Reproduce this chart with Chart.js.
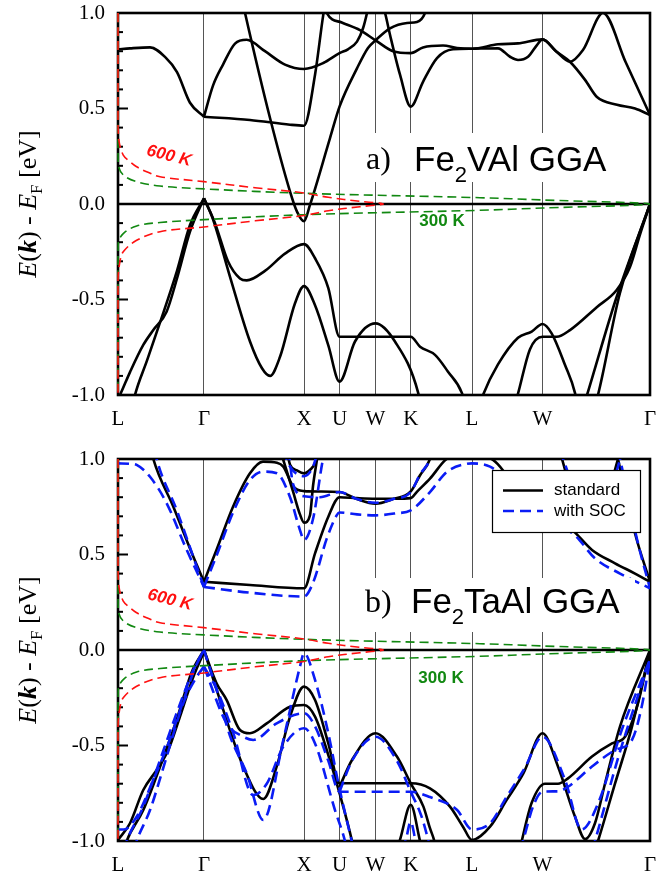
<!DOCTYPE html>
<html><head><meta charset="utf-8">
<script src="https://cdn.jsdelivr.net/npm/chart.js@4.4.1/dist/chart.umd.min.js"></script>
<style>
html,body{margin:0;padding:0;background:#fff;}
#wrap{position:relative;width:663px;height:875px;overflow:hidden;background:#fff;}
canvas{position:absolute;left:0;}
#ca{top:0;width:663px;height:440px;} #cb{top:440px;width:663px;height:435px;}
</style></head><body>
<div id="wrap"><canvas id="ca" width="663" height="440"></canvas><canvas id="cb" width="663" height="435"></canvas></div>
<script>
// k-path (units of 2π/a) and labels
const kTicks = [0, 0.867, 1.876, 2.234, 2.597, 2.952, 3.570, 4.281, 5.365];
const kLabels = ['L','Γ','X','U','W','K','L','W','Γ'];
const yTicks = [-1, -0.5, 0, 0.5, 1];

// Fermi window curves [k, E]
const fermi600 = [[0,1.0],[0,0.45],[0.01,0.33],[0.053,0.256],[0.121,0.222],[0.188,0.195],[0.289,0.169],[0.424,0.143],[0.867,0.117],[1.382,0.085],[1.876,0.058],[2.12,0.035],[2.44,0.014],[2.676,0],[2.44,-0.014],[2.12,-0.035],[1.876,-0.06],[1.382,-0.088],[0.867,-0.12],[0.424,-0.145],[0.188,-0.19],[0.053,-0.25],[0.02,-0.30],[0,-0.40],[0,-1.0]];
const fermi300 = [[0,1.0],[0,0.32],[0.003,0.204],[0.053,0.152],[0.188,0.117],[0.424,0.094],[0.867,0.079],[1.876,0.056],[3.65,0.033],[4.281,0.021],[5.365,0],[4.281,-0.021],[3.65,-0.033],[1.876,-0.056],[0.867,-0.082],[0.424,-0.097],[0.188,-0.115],[0.053,-0.155],[0.003,-0.204],[0,-0.32],[0,-1.0]];

// Panel a: Fe2VAl GGA bands [k, E]
const aBand1 = [[0,0.81],[0.121,0.815],[0.323,0.82],[0.474,0.77],[0.595,0.69],[0.726,0.53],[0.867,0.457]];
const aBand2 = [[0.867,0.457],[1.331,0.44],[1.735,0.415],[1.876,0.41],[1.987,0.677],[2.07,0.99],[2.09,1.05]];
const aBand3 = [[0.867,0.457],[0.958,0.62],[1.059,0.73],[1.180,0.84],[1.298,0.86],[1.482,0.80],[1.684,0.73],[1.876,0.707],[2.07,0.738],[2.234,0.79],[2.319,0.81],[2.410,0.85],[2.471,0.92],[2.511,1.0],[2.53,1.05]];
const aBand4 = [[1.26,1.05],[1.281,1.0],[1.533,0.45],[1.735,0.065],[1.805,-0.04],[1.876,-0.09],[1.936,-0.005],[2.138,0.345],[2.234,0.51],[2.410,0.71],[2.521,0.817],[2.597,0.857],[2.743,0.92],[2.915,0.948],[3.015,0.953],[3.096,1.0],[3.12,1.05]];
const aBand5 = [[2.08,1.05],[2.105,1.0],[2.256,0.95],[2.440,0.91],[2.597,0.857],[2.773,0.80],[2.952,0.79],[3.076,0.82],[3.278,0.83],[3.419,0.817],[3.570,0.813],[3.832,0.836],[4.034,0.841],[4.281,0.862],[4.417,0.80],[4.558,0.745],[4.689,0.806],[4.891,1.0],[5.12,0.742],[5.365,0.466]];
const aBand6 = [[3.570,0.813],[3.832,0.815],[3.953,0.771],[4.034,0.754],[4.135,0.771],[4.225,0.832],[4.281,0.862],[4.417,0.80],[4.558,0.745],[4.710,0.65],[4.830,0.56],[5.032,0.52],[5.214,0.50],[5.365,0.466]];
const aBand7 = [[2.66,1.05],[2.693,1.0],[2.743,0.886],[2.844,0.677],[2.952,0.51],[3.076,0.64],[3.217,0.764],[3.378,0.81],[3.570,0.813]];
const aBand8 = [[0,-1.02],[0.020,-1.0],[0.121,-0.88],[0.255,-0.738],[0.356,-0.66],[0.49,-0.564],[0.595,-0.39],[0.726,-0.145],[0.867,0.03]];
const aBand9 = [[0.15,-1.05],[0.171,-1.0],[0.292,-0.82],[0.424,-0.62],[0.595,-0.35],[0.726,-0.11],[0.867,0.03]];
const aBand10 = [[0.867,0.03],[0.978,-0.10],[1.109,-0.30],[1.230,-0.39],[1.298,-0.40],[1.482,-0.35],[1.684,-0.26],[1.876,-0.21],[1.987,-0.284],[2.121,-0.44],[2.234,-0.695],[2.952,-0.695],[3.046,-0.747],[3.197,-0.79],[3.328,-0.878],[3.469,-0.99],[3.5,-1.05]];
const aBand11 = [[0.867,0.03],[0.958,-0.08],[1.129,-0.38],[1.331,-0.72],[1.452,-0.86],[1.533,-0.90],[1.634,-0.80],[1.785,-0.52],[1.876,-0.43],[1.987,-0.53],[2.121,-0.74],[2.234,-0.93],[2.390,-0.72],[2.597,-0.625],[2.793,-0.72],[3.028,-0.99],[3.05,-1.05]];
const aBand12 = [[3.65,-1.05],[3.681,-1.0],[3.832,-0.84],[4.034,-0.70],[4.172,-0.668],[4.281,-0.628],[4.373,-0.677],[4.508,-0.843],[4.609,-0.99],[4.63,-1.05]];
const aBand13 = [[4.0,-1.05],[4.03,-1.0],[4.155,-0.76],[4.281,-0.695],[4.424,-0.695],[4.558,-0.66],[4.828,-0.54],[5.029,-0.45],[5.163,-0.33],[5.264,-0.16],[5.365,0.0]];
const aBand14 = [[4.70,-1.05],[4.73,-1.0],[5.02,-0.50],[5.365,0]];
const aBand15 = [[4.81,-1.05],[4.84,-1.0],[5.06,-0.47],[5.365,0]];

// Panel b: Fe2TaAl GGA, standard (black)
const bBand1 = [[0.33,1.06],[0.356,1.0],[0.558,0.75],[0.76,0.488],[0.867,0.357]];
const bBand2 = [[0.867,0.357],[0.998,0.53],[1.16,0.75],[1.331,0.925],[1.462,0.986],[1.603,0.98],[1.667,0.96],[1.768,0.855],[1.876,0.832],[2.037,0.83],[2.234,0.827],[2.410,0.79],[2.597,0.766],[2.773,0.79],[2.952,0.83],[3.046,0.915],[3.146,1.0],[3.17,1.05]];
const bBand3 = [[1.634,1.05],[1.664,1.0],[1.765,0.83],[1.835,0.71],[1.876,0.667],[1.936,0.705],[1.967,0.86],[2.007,1.0],[2.02,1.05]];
const bBand4 = [[1.70,1.05],[1.735,0.97],[1.805,0.94],[1.876,0.925],[1.94,0.945],[1.987,0.98],[2.02,1.05]];
const bBand5 = [[0.867,0.357],[1.331,0.34],[1.876,0.323],[1.987,0.506],[2.121,0.698],[2.234,0.80],[2.410,0.795],[2.597,0.792],[2.793,0.792],[2.952,0.795],[3.012,0.827],[3.146,0.897],[3.315,1.0],[3.57,1.03],[3.782,0.995],[3.883,0.94],[4.054,0.80],[4.357,0.70],[4.578,0.63],[4.780,0.524],[5.012,0.454],[5.214,0.40],[5.365,0.357]];
const bBand6 = [[4.46,1.05],[4.478,1.0],[4.609,0.82],[4.76,0.78],[4.911,0.82],[5.042,1.0],[5.06,1.05]];
const bBand7 = [[5.02,1.05],[5.042,1.0],[5.214,0.61],[5.365,0.357]];
const bBand8 = [[0,-0.995],[0.121,-0.907],[0.255,-0.733],[0.39,-0.628],[0.507,-0.524],[0.625,-0.349],[0.76,-0.14],[0.867,-0.01]];
const bBand9 = [[0.06,-1.05],[0.088,-1.0],[0.255,-0.838],[0.424,-0.611],[0.595,-0.36],[0.74,-0.12],[0.867,0.0]];
const bBand10 = [[0.867,0.0],[0.995,-0.175],[1.096,-0.262],[1.23,-0.419],[1.331,-0.436],[1.5,-0.384],[1.735,-0.297],[1.876,-0.288],[1.987,-0.349],[2.121,-0.55],[2.234,-0.75],[2.36,-1.0],[2.38,-1.05]];
const bBand11 = [[0.867,0.0],[1.029,-0.262],[1.264,-0.611],[1.465,-0.78],[1.6,-0.611],[1.735,-0.349],[1.876,-0.192],[1.987,-0.262],[2.121,-0.489],[2.234,-0.698],[2.952,-0.698],[3.146,-0.724],[3.348,-0.82],[3.479,-0.925],[3.570,-0.995],[3.752,-0.925],[3.92,-0.785],[4.088,-0.646],[4.281,-0.436],[4.437,-0.61],[4.609,-0.873],[4.710,-0.99],[4.810,-0.907],[4.911,-0.70],[5.063,-0.40],[5.365,0.0]];
const bBand12 = [[2.234,-0.716],[2.36,-0.576],[2.597,-0.436],[2.813,-0.558],[2.952,-0.698],[3.08,-0.82],[3.146,-0.933],[3.19,-1.0],[3.21,-1.05]];
const bBand13 = [[2.80,-1.05],[2.84,-1.0],[2.952,-0.81],[3.046,-1.0],[3.07,-1.05]];
const bBand14 = [[4.05,-1.05],[4.074,-0.995],[4.172,-0.80],[4.306,-0.70],[4.437,-0.70],[4.538,-0.672],[4.780,-0.558],[4.982,-0.489],[5.113,-0.454],[5.244,-0.279],[5.365,0.0]];
const bBand15 = [[4.81,-1.05],[4.841,-1.0],[5.012,-0.70],[5.184,-0.40],[5.365,0.0]];

// Panel b: with SOC (blue dashed)
const sBand1 = [[0,0.977],[0.121,0.975],[0.188,0.969],[0.323,0.907],[0.491,0.768],[0.693,0.524],[0.867,0.33]];
const sBand2 = [[0.37,1.05],[0.39,1.0],[0.592,0.733],[0.794,0.436],[0.867,0.33]];
const sBand3 = [[0.867,0.33],[0.998,0.50],[1.16,0.72],[1.331,0.89],[1.462,0.934],[1.603,0.925],[1.735,0.80],[1.835,0.628],[1.876,0.576],[1.967,0.687],[2.067,1.0],[2.09,1.05]];
const sBand4 = [[1.664,1.05],[1.735,0.96],[1.876,0.91],[1.967,0.96],[2.02,1.05]];
const sBand5 = [[1.72,1.05],[1.765,0.87],[1.876,0.805],[2.037,0.80],[2.234,0.827],[2.410,0.79],[2.597,0.771],[2.773,0.79],[2.952,0.827],[3.046,0.92],[3.146,1.0],[3.17,1.05]];
const sBand6 = [[0.867,0.33],[1.331,0.30],[1.876,0.28],[1.97,0.356],[2.105,0.583],[2.205,0.705],[2.234,0.72],[2.410,0.71],[2.597,0.705],[2.793,0.715],[2.952,0.731],[3.146,0.827],[3.315,0.932],[3.516,0.975],[3.570,0.977],[3.752,0.96],[3.883,0.907],[4.054,0.80],[4.357,0.68],[4.609,0.60],[4.810,0.48],[5.063,0.40],[5.365,0.323]];
const sBand7 = [[5.04,1.05],[5.063,1.0],[5.234,0.58],[5.365,0.323]];
const sBand8 = [[4.46,1.05],[4.49,1.0],[4.62,0.83],[4.78,0.79],[4.93,0.83],[5.063,1.0],[5.08,1.05]];
const sBand9 = [[0,-0.94],[0.06,-0.94],[0.188,-0.873],[0.356,-0.68],[0.50,-0.50],[0.65,-0.28],[0.78,-0.09],[0.867,0.0]];
const sBand10 = [[0.06,-1.05],[0.088,-1.0],[0.255,-0.82],[0.424,-0.576],[0.592,-0.33],[0.76,-0.105],[0.867,0.0]];
const sBand11 = [[0.16,-1.05],[0.188,-1.0],[0.323,-0.838],[0.491,-0.558],[0.658,-0.279],[0.794,-0.14],[0.867,-0.087]];
const sBand12 = [[0.867,-0.087],[1.096,-0.384],[1.264,-0.454],[1.364,-0.471],[1.6,-0.384],[1.876,-0.331],[1.987,-0.40],[2.121,-0.58],[2.234,-0.742],[2.952,-0.742],[3.146,-0.77],[3.42,-0.838],[3.570,-0.94],[3.752,-0.907],[3.92,-0.768],[4.1,-0.62],[4.281,-0.454],[4.508,-0.68],[4.676,-0.94],[4.844,-0.80],[5.08,-0.419],[5.365,-0.05]];
const sBand13 = [[0.867,0.0],[0.99,-0.20],[1.13,-0.45],[1.298,-0.646],[1.465,-0.89],[1.667,-0.471],[1.835,-0.087],[1.876,-0.017],[1.987,-0.157],[2.121,-0.436],[2.222,-0.698],[2.357,-1.0],[2.38,-1.05]];
const sBand14 = [[0.867,-0.087],[0.99,-0.20],[1.163,-0.436],[1.364,-0.76],[1.50,-0.70],[1.667,-0.506],[1.876,-0.41],[1.987,-0.489],[2.188,-0.838],[2.289,-1.0],[2.31,-1.05]];
const sBand15 = [[2.234,-0.742],[2.36,-0.58],[2.597,-0.454],[2.813,-0.58],[2.952,-0.742],[3.06,-0.87],[3.13,-1.0],[3.15,-1.05]];
const sBand16 = [[2.86,-1.05],[2.90,-1.0],[2.952,-0.90],[3.0,-1.0],[3.02,-1.05]];
const sBand17 = [[4.05,-1.05],[4.084,-1.0],[4.185,-0.82],[4.281,-0.742],[4.437,-0.74],[4.538,-0.716],[4.780,-0.61],[5.012,-0.524],[5.184,-0.47],[5.28,-0.30],[5.365,-0.05]];
const sBand18 = [[4.78,-1.05],[4.81,-1.0],[5.046,-0.56],[5.365,-0.05]];

const panelABands = [aBand1,aBand2,aBand3,aBand4,aBand5,aBand6,aBand7,aBand8,aBand9,aBand10,aBand11,aBand12,aBand13,aBand14,aBand15];
const panelBStd = [bBand1,bBand2,bBand3,bBand4,bBand5,bBand6,bBand7,bBand8,bBand9,bBand10,bBand11,bBand12,bBand13,bBand14,bBand15];
const panelBSoc = [sBand1,sBand2,sBand3,sBand4,sBand5,sBand6,sBand7,sBand8,sBand9,sBand10,sBand11,sBand12,sBand13,sBand14,sBand15,sBand16,sBand17,sBand18];

const SERIF = "'Liberation Serif','Times New Roman',serif";
const SANS = "'Liberation Sans',Arial,sans-serif";
const RED = '#ff1010', GREEN = '#118811', BLUE = '#0a1cf5';

const pts = arr => arr.map(p => ({x:p[0], y:p[1]}));

function fermiSets(){
  return [
    {data:pts(fermi600), borderColor:RED, borderWidth:1.6, borderDash:[9,5], tension:0.35, pointRadius:0, fill:false, clip:{left:3,top:0,right:0,bottom:0}},
    {data:pts(fermi300), borderColor:GREEN, borderWidth:1.6, borderDash:[9,5], tension:0.35, pointRadius:0, fill:false, clip:{left:3,top:0,right:0,bottom:0}}
  ];
}
function bandSet(arr, soc){
  return {data:pts(arr), borderColor: soc?BLUE:'#000', borderWidth:2.6, borderDash: soc?[11,6]:[],
          cubicInterpolationMode:'monotone', pointRadius:0, fill:false, clip:0};
}

function richW(ctx, parts){ let w=0; for(const p of parts){ctx.font=p.f; w+=ctx.measureText(p.t).width;} return w; }
function drawRich(ctx, parts, x, y){ for(const p of parts){ ctx.font=p.f; ctx.fillText(p.t, x, y+(p.dy||0)); x+=ctx.measureText(p.t).width; } }

function decor(cfg){
  return {
    id:'decor',
    beforeDatasetsDraw(chart){
      const ctx=chart.ctx, ca=chart.chartArea, ys=chart.scales.y;
      ctx.save();
      const y0=ys.getPixelForValue(0);
      ctx.strokeStyle='#000'; ctx.lineWidth=2.5;
      ctx.beginPath(); ctx.moveTo(ca.left,y0); ctx.lineTo(ca.right,y0); ctx.stroke();
      ctx.lineWidth=2.6; ctx.strokeRect(ca.left, ca.top, ca.right-ca.left, ca.bottom-ca.top);
      ctx.lineWidth=2;
      for(let i=-9;i<=9;i++){ if(i===0) continue;
        const y=ys.getPixelForValue(i/10), len=(i%5===0)?10:5;
        ctx.beginPath(); ctx.moveTo(ca.left,y); ctx.lineTo(ca.left+len,y); ctx.stroke(); }
      ctx.restore();
    },
    afterDatasetsDraw(chart){
      const ctx=chart.ctx, ca=chart.chartArea;
      ctx.save();
      ctx.fillStyle='#fff'; ctx.fillRect(cfg.box[0],cfg.box[1],cfg.box[2],cfg.box[3]);
      ctx.fillStyle='#000'; ctx.textBaseline='alphabetic'; ctx.textAlign='left';
      ctx.font='32px '+SERIF; ctx.fillText(cfg.tag, cfg.tagX, cfg.tagY);
      drawRich(ctx, [{t:'Fe',f:'35px '+SANS},{t:'2',f:'22px '+SANS,dy:11},{t:cfg.rest,f:'35px '+SANS}], cfg.fX, cfg.fY);
      ctx.save(); ctx.translate(cfg.l600[0],cfg.l600[1]); ctx.rotate(14*Math.PI/180);
      ctx.fillStyle=RED; ctx.font='italic bold 17px '+SANS; ctx.textAlign='center'; ctx.textBaseline='middle';
      ctx.fillText('600 K',0,0); ctx.restore();
      ctx.fillStyle=GREEN; ctx.font='bold 17px '+SANS; ctx.textAlign='center'; ctx.textBaseline='middle';
      ctx.fillText('300 K', cfg.l300[0], cfg.l300[1]);
      ctx.fillStyle='#000'; ctx.textAlign='left'; ctx.textBaseline='alphabetic';
      const parts=[{t:'E',f:'italic 26px '+SERIF},{t:'(',f:'26px '+SERIF},{t:'k',f:'italic bold 26px '+SERIF},{t:')',f:'26px '+SERIF},
        {t:' - ',f:'26px '+SERIF},{t:'E',f:'italic 26px '+SERIF},{t:'F',f:'17px '+SERIF,dy:6},{t:' [eV]',f:'26px '+SERIF}];
      const w=richW(ctx,parts);
      ctx.save(); ctx.translate(36,(ca.top+ca.bottom)/2); ctx.rotate(-Math.PI/2);
      drawRich(ctx,parts,-w/2,0); ctx.restore();
      if(cfg.legend){
        const L=cfg.legend;
        ctx.fillStyle='#fff'; ctx.fillRect(L[0],L[1],L[2],L[3]);
        ctx.strokeStyle='#000'; ctx.lineWidth=1.2; ctx.strokeRect(L[0]+0.5,L[1]+0.5,L[2],L[3]);
        ctx.lineWidth=2.6;
        ctx.beginPath(); ctx.moveTo(L[0]+11,L[1]+20.5); ctx.lineTo(L[0]+51,L[1]+20.5); ctx.stroke();
        ctx.strokeStyle=BLUE; ctx.setLineDash([11,6]);
        ctx.beginPath(); ctx.moveTo(L[0]+11,L[1]+41); ctx.lineTo(L[0]+51,L[1]+41); ctx.stroke();
        ctx.setLineDash([]);
        ctx.fillStyle='#000'; ctx.font='17px '+SANS; ctx.textBaseline='middle'; ctx.textAlign='left';
        ctx.fillText('standard', L[0]+62, L[1]+20.5);
        ctx.fillText('with SOC', L[0]+62, L[1]+41.5);
      }
      ctx.restore();
    }
  };
}

function makeChart(id, datasets, padTop, xH, cfg){
  return new Chart(document.getElementById(id), {
    type:'line',
    data:{datasets},
    options:{
      responsive:false, animation:false, devicePixelRatio:1,
      layout:{padding:{top:padTop,right:13,left:0,bottom:0}},
      plugins:{legend:{display:false}, tooltip:{enabled:false}},
      elements:{point:{radius:0}},
      scales:{
        x:{type:'linear', min:0, max:5.365,
           afterBuildTicks:s=>{ s.ticks=kTicks.map(v=>({value:v})); },
           afterFit:s=>{ s.height=xH; s.paddingLeft=0; s.paddingRight=0; s.paddingTop=0; s.paddingBottom=0; },
           ticks:{autoSkip:false, maxRotation:0, minRotation:0, padding:12, color:'#000', font:{family:SERIF,size:21}, callback:(v,i)=>kLabels[i]},
           grid:{color:'#555', lineWidth:1, drawTicks:false}, border:{display:false}},
        y:{min:-1, max:1,
           afterBuildTicks:s=>{ s.ticks=yTicks.map(v=>({value:v})); },
           afterFit:s=>{ s.width=118; s.paddingTop=0; s.paddingBottom=0; s.paddingLeft=0; s.paddingRight=0; },
           ticks:{padding:13, color:'#000', font:{family:SERIF,size:21}, callback:v=>Number(v).toFixed(1)},
           grid:{display:false, drawTicks:false}, border:{display:false}}
      }
    },
    plugins:[decor(cfg)]
  });
}

makeChart('ca', [...fermiSets(), ...panelABands.map(b=>bandSet(b,false))], 13, 45,
  {box:[360,133,272,49], tag:'a)', tagX:366, tagY:169, rest:'VAl GGA', fX:414, fY:171, l600:[169,156], l300:[442,221]});
makeChart('cb', [...fermiSets(), ...panelBSoc.map(b=>bandSet(b,true)), ...panelBStd.map(b=>bandSet(b,false))], 19, 34,
  {box:[360,138,275,54], tag:'b)', tagX:365, tagY:172, rest:'TaAl GGA', fX:411, fY:173, l600:[170,160], l300:[441,238], legend:[492,30,148,62]});
</script></body></html>
